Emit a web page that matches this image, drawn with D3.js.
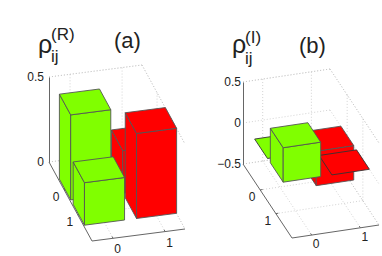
<!DOCTYPE html>
<html>
<head>
<meta charset="utf-8">
<script src="https://d3js.org/d3.v7.min.js"></script>
<style>
    html, body { margin: 0; padding: 0; background: white; }
    svg { display: block; }
    text { font-family: "Liberation Sans", sans-serif; fill: #222; }
</style>
</head>
<body>
<svg id="chart" width="382" height="256"></svg>
<script>
    //density matrix values, [row][col]
    var columns = [0, 1];
    var rows = [0, 1];
    var realValues = [[0.5, 0.25], [0.25, 0.5]];
    var imagValues = [[0, -0.42], [0.42, 0]];
    var colColors = ["#80ff00", "#ff0000"];
    var realTicks = [0, 0.5];
    var imagTicks = [-0.5, 0, 0.5];

    var svg = d3.select("#chart");

    //axis units to fractions of the floor box
    var xScale = d3.scaleLinear().domain([-0.404, 1.382]).range([0, 1]);
    var yScale = d3.scaleLinear().domain([-1.094, 2.03]).range([0, 1]);
    var barHalfX = 0.385;
    var barHalfY = 0.41;

    //builds one 3d bar panel
    function buildPanel(values, zTicks, box) {

        var g = svg.append("g");
        var zScale = d3.scaleLinear().domain(box.zDomain).range(box.zRange);
        var zBase = box.zDomain[0];

        //oblique projection of (x, y, z) to the page
        function project(x, y, z) {
            var u = xScale(x);
            var v = yScale(y);
            return [
                box.origin[0] + u * box.uVec[0] + v * box.vVec[0],
                zScale(z) + u * box.uVec[1] + v * box.vVec[1]
            ];
        }

        var line = d3.line();
        var x0 = xScale.domain()[0], x1 = xScale.domain()[1];
        var y0 = yScale.domain()[0], y1 = yScale.domain()[1];
        var zTop = box.zDomain[1];

        //dotted grid
        var grid = [];
        grid.push([[x0, y0, zTop], [x1, y0, zTop]]);
        grid.push([[x1, y0, zTop], [x1, y1, zTop]]);
        grid.push([[x1, y0, zBase], [x1, y1, zBase]]);
        grid.push([[x0, y0, zBase], [x1, y0, zBase]]);
        columns.forEach(function (c) {
            grid.push([[c, y0, zBase], [c, y1, zBase]]);
            grid.push([[c, y0, zBase], [c, y0, zTop]]);
        });
        rows.forEach(function (r) {
            grid.push([[x0, r, zBase], [x1, r, zBase]]);
            grid.push([[x1, r, zBase], [x1, r, zTop]]);
        });
        zTicks.forEach(function (t) {
            grid.push([[x0, y0, t], [x1, y0, t]]);
            grid.push([[x1, y0, t], [x1, y1, t]]);
        });
        g.selectAll("path.grid")
            .data(grid)
            .enter().append("path")
            .attr("class", "grid")
            .attr("d", function (d) { return line(d.map(function (p) { return project(p[0], p[1], p[2]); })); })
            .attr("fill", "none")
            .attr("stroke", "#c0c0c0")
            .attr("stroke-width", 0.7)
            .attr("stroke-dasharray", "1,2");

        //outer axis lines
        var axes = [
            [[x0, y0, zBase], [x0, y1, zBase]],
            [[x0, y1, zBase], [x1, y1, zBase]]
        ];
        g.selectAll("path.box")
            .data(axes)
            .enter().append("path")
            .attr("class", "box")
            .attr("d", function (d) { return line(d.map(function (p) { return project(p[0], p[1], p[2]); })); })
            .attr("fill", "none")
            .attr("stroke", "#666")
            .attr("stroke-width", 1);

        //vertical axis
        var zAxis = d3.axisLeft(zScale)
            .tickValues(zTicks)
            .tickSize(0)
            .tickPadding(box.zPad)
            .tickFormat(d3.format("~g"));
        var zg = g.append("g")
            .attr("transform", "translate(" + box.origin[0] + ",0)")
            .call(zAxis);
        zg.select(".domain").attr("stroke", "#666");
        zg.selectAll("text")
            .style("font-family", '"Liberation Sans", sans-serif')
            .style("font-size", "12px")
            .attr("fill", "#222");

        //tick marks and labels along the floor
        columns.forEach(function (c) {
            var a = project(c, y1, zBase);
            var b = project(c, y1 - 0.07, zBase);
            g.append("line").attr("x1", a[0]).attr("y1", a[1]).attr("x2", b[0]).attr("y2", b[1]).attr("stroke", "#666");
            g.append("text")
                .attr("x", a[0] + 4.5)
                .attr("y", a[1] + box.colLabelDy)
                .attr("text-anchor", "middle")
                .attr("font-size", "12px")
                .text(c);
        });
        rows.forEach(function (r) {
            var a = project(x0, r, zBase);
            var b = project(x0 + 0.05, r, zBase);
            g.append("line").attr("x1", a[0]).attr("y1", a[1]).attr("x2", b[0]).attr("y2", b[1]).attr("stroke", "#666");
            g.append("text")
                .attr("x", a[0] - 8)
                .attr("y", a[1] + 11.5)
                .attr("text-anchor", "middle")
                .attr("font-size", "12px")
                .text(r);
        });

        //bars, back to front, viewer sits front left
        rows.forEach(function (r) {
            columns.slice().reverse().forEach(function (c) {
                var val = values[r][c];
                var low = Math.min(0, val);
                var high = Math.max(0, val);
                var xa = c - barHalfX, xb = c + barHalfX;
                var ya = r - barHalfY, yb = r + barHalfY;
                var faces = [];
                if (high > low) {
                    faces.push([[xa, ya, low], [xa, yb, low], [xa, yb, high], [xa, ya, high]]); //left
                    faces.push([[xa, yb, low], [xb, yb, low], [xb, yb, high], [xa, yb, high]]); //front
                }
                faces.push([[xa, ya, high], [xb, ya, high], [xb, yb, high], [xa, yb, high]]); //top
                faces.forEach(function (f) {
                    g.append("path")
                        .attr("d", line(f.map(function (p) { return project(p[0], p[1], p[2]); })) + "Z")
                        .attr("fill", colColors[c])
                        .attr("stroke", high > low ? "#555" : "#333")
                        .attr("stroke-width", 0.9)
                        .attr("stroke-linejoin", "round");
                });
            });
        });

        //labels
        g.append("text").attr("x", box.rho[0]).attr("y", box.rho[1]).attr("font-size", "25px").text("ρ");
        g.append("text").attr("x", box.rho[0] + 13).attr("y", box.supY).attr("font-size", "17px").text(box.sup);
        g.append("text").attr("x", box.rho[0] + 13).attr("y", box.subY).attr("font-size", "17px").text("ij");
        g.append("text").attr("x", box.tag[0]).attr("y", box.tag[1]).attr("font-size", "22px").text(box.tagText);
    }

    buildPanel(realValues, realTicks, {
        origin: [49, 162],
        uVec: [93, -12],
        vVec: [43, 79],
        zDomain: [0, 0.5],
        zRange: [162, 77],
        zPad: 5,
        colLabelDy: 15,
        rho: [38, 53],
        sup: "(R)",
        supY: 40,
        subY: 62,
        tag: [114, 48],
        tagText: "(a)"
    });

    buildPanel(imagValues, imagTicks, {
        origin: [243, 164],
        uVec: [87, -13],
        vVec: [49, 74],
        zDomain: [-0.5, 0.5],
        zRange: [164, 82],
        zPad: 2,
        colLabelDy: 13,
        rho: [232, 53],
        sup: "(I)",
        supY: 43,
        subY: 64,
        tag: [299, 53],
        tagText: "(b)"
    });
</script>
</body>
</html>
